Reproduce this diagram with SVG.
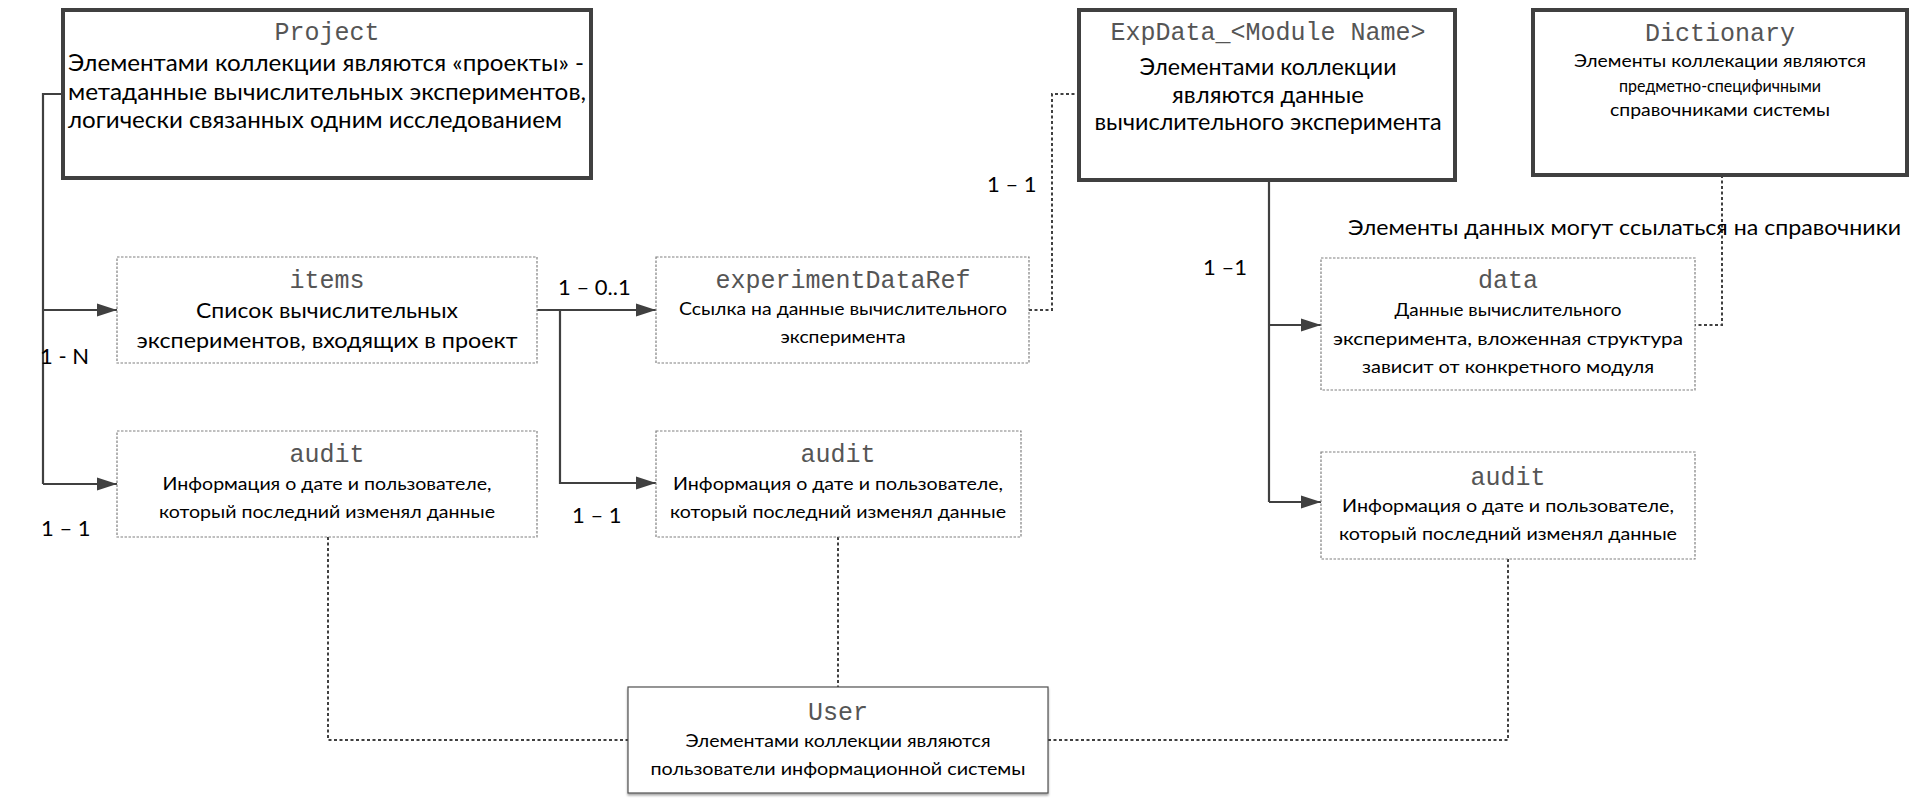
<svg xmlns="http://www.w3.org/2000/svg" width="1911" height="805" viewBox="0 0 1911 805">
<defs>
<marker id="arr" viewBox="0 0 20 14" refX="20" refY="7" markerWidth="20" markerHeight="14" markerUnits="userSpaceOnUse" orient="auto">
<path d="M0,0.5 L20,7 L0,13.5 Z" fill="#404040"/>
</marker>
<filter id="sh" x="-5%" y="-5%" width="110%" height="115%">
<feDropShadow dx="0" dy="2" stdDeviation="1" flood-color="#000" flood-opacity="0.35"/>
</filter>
</defs>
<style>
.bg{fill:#fff}
.main{fill:#fff;stroke:#404040;stroke-width:4}
.sub{fill:#fff;stroke:#808080;stroke-width:1.2;stroke-dasharray:2.5 1.5}
.usr{fill:#fff;stroke:#505050;stroke-width:1.2}
.t{font-family:"Liberation Mono","Courier New",monospace;font-size:25px;fill:#555;text-anchor:middle}
.b{font-family:Lato,"Noto Sans",sans-serif;fill:#000}
.c{text-anchor:middle}
.b23{font-size:23px}
.b22{font-size:22.5px}
.b21{font-size:21px}
.b18{font-size:18px}
.solid{fill:none;stroke:#404040;stroke-width:2.2}
.dot{fill:none;stroke:#404040;stroke-width:2;stroke-dasharray:3 2.5}
.lbl{font-family:Lato,"Noto Sans",sans-serif;font-size:22px;fill:#000}
</style>
<rect class="bg" x="0" y="0" width="1911" height="805"/>

<g id="connectors">
<path class="solid" d="M63,94 H43 V484"/>
<path class="solid" d="M43,310 H117" marker-end="url(#arr)"/>
<path class="solid" d="M43,484 H117" marker-end="url(#arr)"/>
<path class="solid" d="M537,310 H656" marker-end="url(#arr)"/>
<path class="solid" d="M560,310 V483 H656" marker-end="url(#arr)"/>
<path class="dot" d="M1029,310 H1052 V94 H1079"/>
<path class="solid" d="M1269,180 V502"/>
<path class="solid" d="M1269,325 H1321" marker-end="url(#arr)"/>
<path class="solid" d="M1269,502 H1321" marker-end="url(#arr)"/>
<path class="dot" d="M1722,175 V325 H1695"/>
<path class="dot" d="M328,537 V740 H628"/>
<path class="dot" d="M838,537 V687"/>
<path class="dot" d="M1508,559 V740 H1048"/>
<text class="lbl" x="40" y="364">1 - N</text>
<text class="lbl" x="41" y="536">1 – 1</text>
<text class="lbl" x="558" y="295">1 – 0..1</text>
<text class="lbl" x="572" y="523">1 – 1</text>
<text class="lbl" x="987" y="192">1 – 1</text>
<text class="lbl" x="1203" y="275">1 –1</text>
<text class="lbl" x="1348" y="235" textLength="553" lengthAdjust="spacingAndGlyphs">Элементы данных могут ссылаться на справочники</text>
</g>

<g id="project">
<rect class="main" x="63" y="10" width="528" height="168"/>
<text class="t" x="327" y="40">Project</text>
<text class="b b23" x="68" y="71" textLength="516" lengthAdjust="spacingAndGlyphs">Элементами коллекции являются «проекты» -</text>
<text class="b b23" x="68" y="99.5" textLength="518" lengthAdjust="spacingAndGlyphs">метаданные  вычислительных  экспериментов,</text>
<text class="b b23" x="68" y="128" textLength="494" lengthAdjust="spacingAndGlyphs">логически связанных одним исследованием</text>
</g>

<g id="expdata">
<rect class="main" x="1079" y="10" width="376" height="170"/>
<text class="t" x="1268" y="40">ExpData_&lt;Module Name&gt;</text>
<text class="b b22 c" x="1268" y="75" textLength="257" lengthAdjust="spacingAndGlyphs">Элементами коллекции</text>
<text class="b b22 c" x="1268" y="102.5" textLength="192" lengthAdjust="spacingAndGlyphs">являются данные</text>
<text class="b b22 c" x="1268" y="130" textLength="347" lengthAdjust="spacingAndGlyphs">вычислительного эксперимента</text>
</g>

<g id="dictionary">
<rect class="main" x="1533" y="10" width="374" height="165"/>
<text class="t" x="1720" y="41">Dictionary</text>
<text class="b b18 c" x="1720" y="67" textLength="292" lengthAdjust="spacingAndGlyphs">Элементы коллекации являются</text>
<text class="b b18 c" x="1720" y="92" textLength="202" lengthAdjust="spacingAndGlyphs">предметно-специфичными</text>
<text class="b b18 c" x="1720" y="116" textLength="220" lengthAdjust="spacingAndGlyphs">справочниками системы</text>
</g>

<g id="items">
<rect class="sub" x="117" y="257" width="420" height="106"/>
<text class="t" x="327" y="288">items</text>
<text class="b b21 c" x="327" y="318" textLength="262" lengthAdjust="spacingAndGlyphs">Список вычислительных</text>
<text class="b b21 c" x="327" y="348" textLength="381" lengthAdjust="spacingAndGlyphs">экспериментов, входящих в проект</text>
</g>

<g id="experimentDataRef">
<rect class="sub" x="656" y="257" width="373" height="106"/>
<text class="t" x="843" y="288">experimentDataRef</text>
<text class="b b18 c" x="843" y="315" textLength="328" lengthAdjust="spacingAndGlyphs">Ссылка на данные вычислительного</text>
<text class="b b18 c" x="843" y="343" textLength="125" lengthAdjust="spacingAndGlyphs">эксперимента</text>
</g>

<g id="audit-project">
<rect class="sub" x="117" y="431" width="420" height="106"/>
<text class="t" x="327" y="462">audit</text>
<text class="b b18 c" x="327" y="490" textLength="329" lengthAdjust="spacingAndGlyphs">Информация о дате и пользователе,</text>
<text class="b b18 c" x="327" y="518" textLength="336" lengthAdjust="spacingAndGlyphs">который последний изменял данные</text>
</g>

<g id="audit-items">
<rect class="sub" x="656" y="431" width="365" height="106"/>
<text class="t" x="838" y="462">audit</text>
<text class="b b18 c" x="838" y="490" textLength="330" lengthAdjust="spacingAndGlyphs">Информация о дате и пользователе,</text>
<text class="b b18 c" x="838" y="518" textLength="336" lengthAdjust="spacingAndGlyphs">который последний изменял данные</text>
</g>

<g id="data">
<rect class="sub" x="1321" y="258" width="374" height="132"/>
<text class="t" x="1508" y="288">data</text>
<text class="b b18 c" x="1508" y="316" textLength="227" lengthAdjust="spacingAndGlyphs">Данные вычислительного</text>
<text class="b b18 c" x="1508" y="345" textLength="350" lengthAdjust="spacingAndGlyphs">эксперимента, вложенная структура</text>
<text class="b b18 c" x="1508" y="373" textLength="292" lengthAdjust="spacingAndGlyphs">зависит от конкретного модуля</text>
</g>

<g id="audit-expdata">
<rect class="sub" x="1321" y="452" width="374" height="107"/>
<text class="t" x="1508" y="485">audit</text>
<text class="b b18 c" x="1508" y="512" textLength="332" lengthAdjust="spacingAndGlyphs">Информация о дате и пользователе,</text>
<text class="b b18 c" x="1508" y="540" textLength="338" lengthAdjust="spacingAndGlyphs">который последний изменял данные</text>
</g>

<g id="user">
<rect class="usr" x="628" y="687" width="420" height="106" filter="url(#sh)"/>
<text class="t" x="838" y="720">User</text>
<text class="b b18 c" x="838" y="747" textLength="305" lengthAdjust="spacingAndGlyphs">Элементами коллекции являются</text>
<text class="b b18 c" x="838" y="775" textLength="375" lengthAdjust="spacingAndGlyphs">пользователи информационной системы</text>
</g>
</svg>
